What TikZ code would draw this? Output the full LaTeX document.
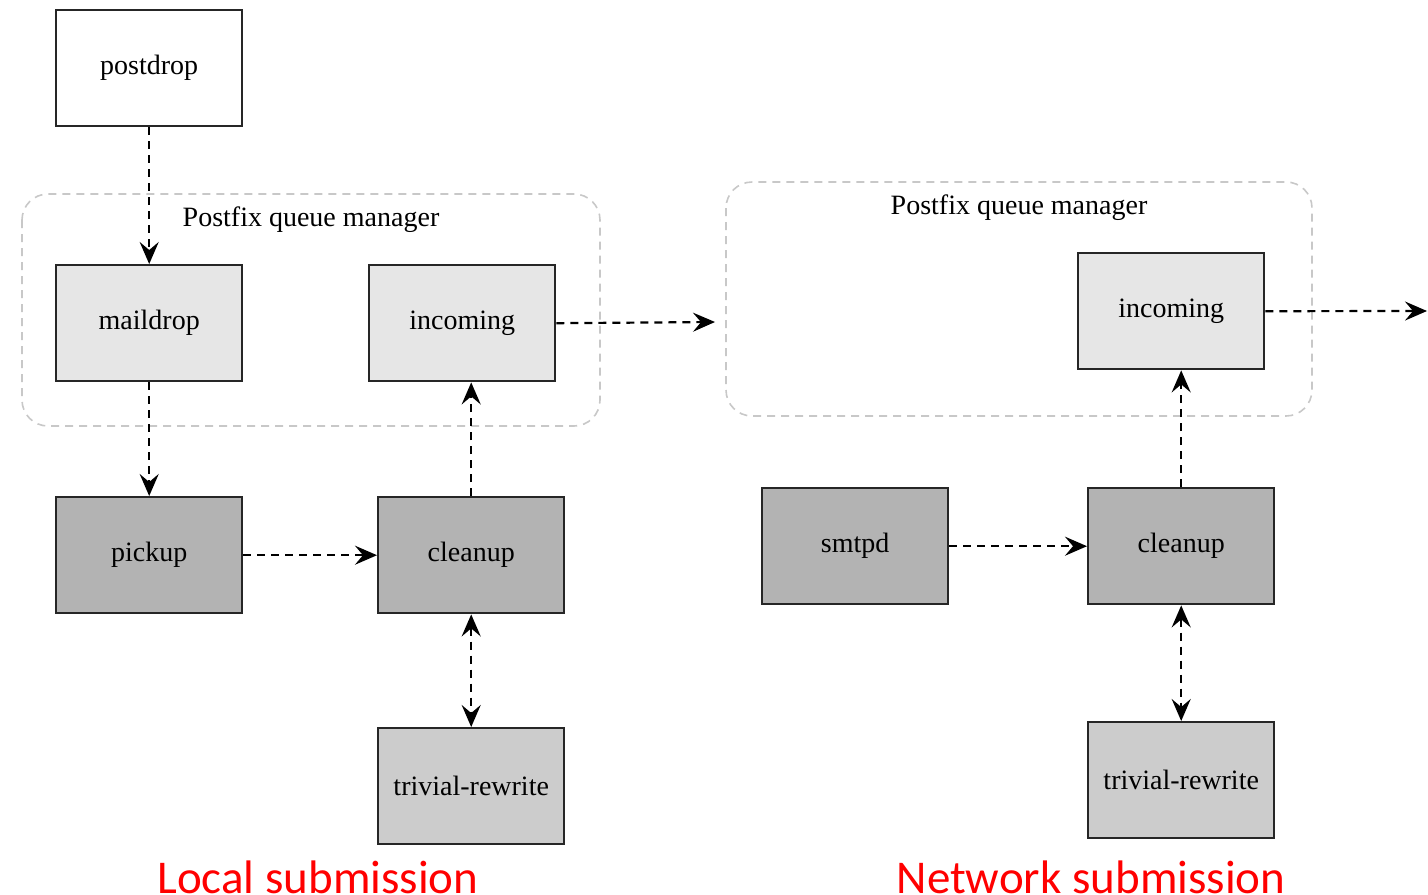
\documentclass[tikz,border=0pt]{standalone}
\usepackage{fontspec}
\setmainfont{Liberation Serif}
\newfontfamily\labelfont{Carlito}
\usetikzlibrary{arrows.meta}
\definecolor{lightbox}{HTML}{E6E6E6}
\definecolor{midbox}{HTML}{CCCCCC}
\definecolor{darkbox}{HTML}{B3B3B3}
\definecolor{groupline}{HTML}{C8C8C8}
\tikzset{
  proc/.style={draw=black!85, line width=1.2pt, minimum width=93pt, minimum height=58pt, inner sep=0pt, font=\fontsize{14pt}{16pt}\selectfont, anchor=north west},
  flow/.style={draw=black, line width=1.1pt, dash pattern=on 4pt off 3pt, -{Stealth[length=11pt,width=9.5pt,inset=4pt]}},
  biflow/.style={draw=black, line width=1.1pt, dash pattern=on 4pt off 3pt, {Stealth[length=11pt,width=9.5pt,inset=4pt]}-{Stealth[length=11pt,width=9.5pt,inset=4pt]}},
  group/.style={draw=groupline, line width=0.8pt, dash pattern=on 4pt off 3pt, rounded corners=13pt},
  grouptitle/.style={font=\fontsize{14pt}{16pt}\selectfont},
  caption/.style={text=red, font=\labelfont\fontsize{23.5pt}{26pt}\selectfont, anchor=base}
}
\begin{document}
\begin{tikzpicture}[x=0.5pt, y=-0.5pt]
\useasboundingbox (0,0) rectangle (1428,894);
% groups
\draw[group] (22,194) rectangle (600,426);
\draw[group] (726,182) rectangle (1312,416);
\node[grouptitle] (gt1) at (311,220) {Postfix queue manager};
\node[grouptitle] (gt2) at (1019,208) {Postfix queue manager};
% left
\node[proc, fill=white] (postdrop) at (55,9) {postdrop};
\node[proc, fill=lightbox] (maildrop) at (55,264) {maildrop};
\node[proc, fill=lightbox] (incL) at (368,264) {incoming};
\node[proc, fill=darkbox] (pickup) at (55,496) {pickup};
\node[proc, fill=darkbox] (cleanL) at (377,496) {cleanup};
\node[proc, fill=midbox] (trivL) at (377,727) {trivial-rewrite};
% right
\node[proc, fill=lightbox] (incR) at (1077,252) {incoming};
\node[proc, fill=darkbox] (smtpd) at (761,487) {smtpd};
\node[proc, fill=darkbox] (cleanR) at (1087,487) {cleanup};
\node[proc, fill=midbox] (trivR) at (1087,721) {trivial-rewrite};
% free ends
\coordinate (outL) at (715,322);
\coordinate (outR) at (1427,311);
% connectors left
\draw[flow] (postdrop.south) -- (maildrop.north);
\draw[flow] (maildrop.south) -- (pickup.north);
\draw[flow] (pickup.east) -- (cleanL.west);
\draw[flow] (cleanL.north) -- (cleanL.north |- incL.south);
\draw[biflow] (cleanL.south) -- (trivL.north);
\draw[flow] (incL.east) -- (outL);
% connectors right
\draw[flow] (smtpd.east) -- (cleanR.west);
\draw[flow] (cleanR.north) -- (cleanR.north |- incR.south);
\draw[biflow] (cleanR.south) -- (trivR.north);
\draw[flow] (incR.east) -- (outR);
% captions
\node[caption] (capL) at (318,893) {Local submission};
\node[caption] (capR) at (1091,893) {Network submission};
\end{tikzpicture}
\end{document}
